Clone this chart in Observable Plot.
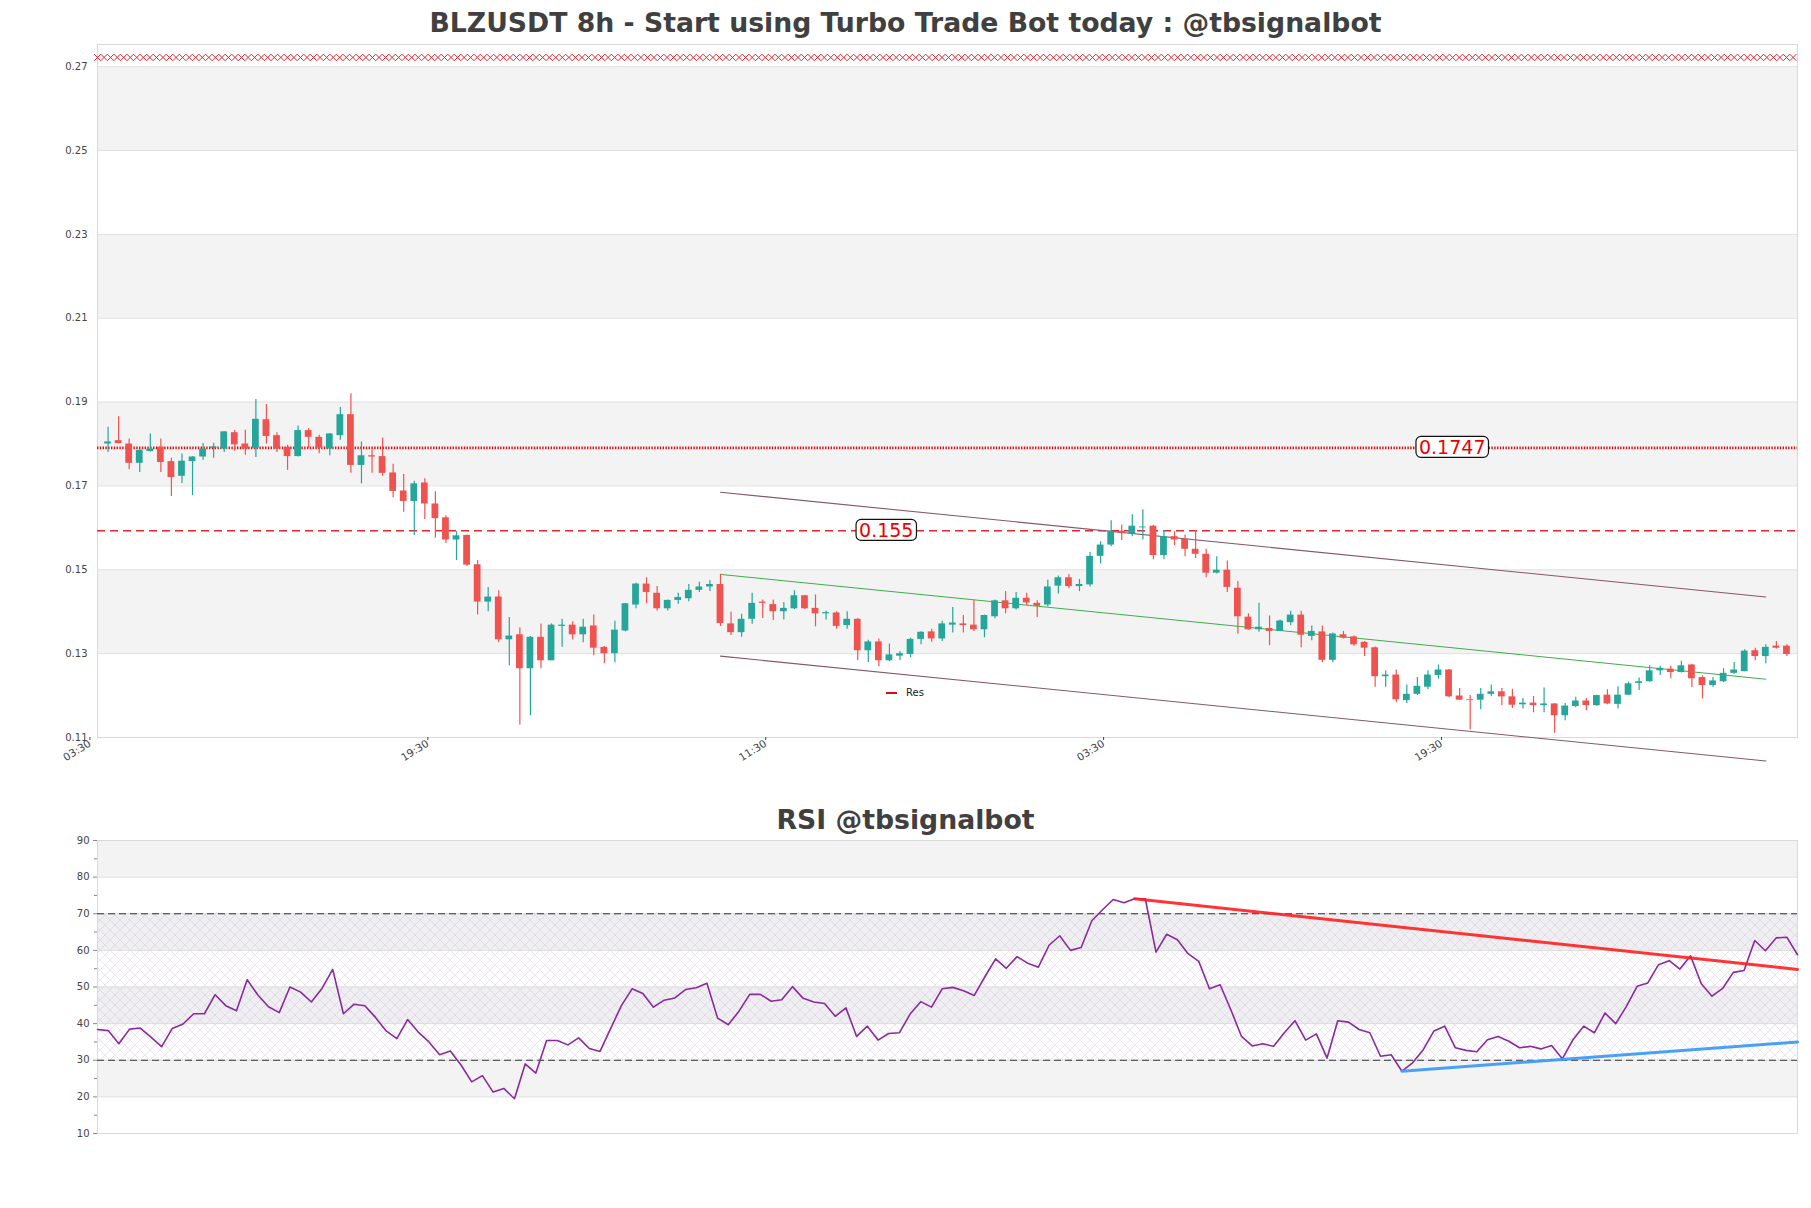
<!DOCTYPE html>
<html>
<head>
<meta charset="utf-8">
<script src="https://cdn.jsdelivr.net/npm/d3@7"></script>
<script src="https://cdn.jsdelivr.net/npm/@observablehq/plot@0.6"></script>
<style>
  html, body { margin: 0; padding: 0; background: #fff; overflow: hidden; }
  #root { position: relative; width: 1811px; height: 1208px; font-family: "DejaVu Sans", sans-serif; }
  .title { position: absolute; left: 0; width: 1811px; text-align: center; font-weight: bold; font-size: 26.7px; line-height: 30px; color: #404040; }
  .abs { position: absolute; left: 0; }
  #legend { position: absolute; font-size: 10px; color: #222; }
  #legend span.sw { display: inline-block; width: 11px; height: 2px; background: #d0101a; vertical-align: middle; margin-right: 9px; }
</style>
</head>
<body>
<div id="root">
  <svg width="0" height="0" style="position:absolute">
    <defs>
      <pattern id="hatch" width="10" height="10" patternUnits="userSpaceOnUse">
        <path d="M0,0L10,10M10,0L0,10" stroke="#cbbcd5" stroke-width="0.5" fill="none"/>
      </pattern>
    </defs>
  </svg>
  <div class="title" id="t1" style="top:8px">BLZUSDT 8h - Start using Turbo Trade Bot today : @tbsignalbot</div>
  <div class="abs" id="main" style="top:0"></div>
  <div id="legend" style="left:886px; top:687px"><span class="sw"></span>Res</div>
  <div class="title" id="t2" style="top:805px">RSI @tbsignalbot</div>
  <div class="abs" id="rsi" style="top:830px"></div>
</div>
<script>
// ---------------- DATA ----------------
const open = [
0.1800,0.1808,0.1800,0.1754,0.1782,0.1792,0.1758,0.1723,0.1758,0.1769,
0.1790,0.1788,0.1827,0.1800,0.1790,0.1858,0.1820,0.1792,0.1770,0.1832,
0.1816,0.1788,0.1820,0.1870,0.1749,0.1772,0.1770,0.1731,0.1688,0.1663,
0.1707,0.1657,0.1624,0.1571,0.1582,0.1512,0.1423,0.1435,0.1333,0.1345,
0.1264,0.1339,0.1283,0.1365,0.1368,0.1345,0.1366,0.1315,0.1300,0.1354,
0.1416,0.1466,0.1444,0.1407,0.1427,0.1431,0.1451,0.1459,0.1465,0.1371,
0.1350,0.1382,0.1423,0.1417,0.1400,0.1407,0.1438,0.1408,0.1395,0.1397,
0.1367,0.1382,0.1307,0.1328,0.1283,0.1294,0.1298,0.1334,0.1352,0.1335,
0.1368,0.1371,0.1368,0.1357,0.1388,0.1426,0.1407,0.1432,0.1420,0.1416,
0.1461,0.1481,0.1460,0.1464,0.1532,0.1559,0.1592,0.1586,0.1600,0.1604,
0.1534,0.1579,0.1573,0.1549,0.1537,0.1492,0.1499,0.1456,0.1387,0.1357,
0.1360,0.1353,0.1374,0.1392,0.1341,0.1352,0.1284,0.1345,0.1340,0.1327,
0.1314,0.1245,0.1249,0.1188,0.1203,0.1220,0.1248,0.1261,0.1199,0.1190,
0.1189,0.1203,0.1209,0.1197,0.1178,0.1182,0.1176,0.1180,0.1152,0.1174,
0.1187,0.1176,0.1201,0.1179,0.1201,0.1229,0.1233,0.1259,0.1263,0.1255,
0.1273,0.1243,0.1224,0.1233,0.1253,0.1257,0.1307,0.1293,0.1318,0.1318
];
const close = [
0.1805,0.1801,0.1754,0.1785,0.1788,0.1756,0.1720,0.1759,0.1769,0.1788,
0.1793,0.1829,0.1798,0.1788,0.1859,0.1818,0.1788,0.1770,0.1832,0.1816,
0.1790,0.1824,0.1870,0.1749,0.1772,0.1769,0.1730,0.1687,0.1663,0.1705,
0.1657,0.1622,0.1571,0.1581,0.1511,0.1423,0.1435,0.1333,0.1342,0.1264,
0.1339,0.1283,0.1368,0.1368,0.1345,0.1363,0.1313,0.1300,0.1356,0.1419,
0.1466,0.1446,0.1407,0.1427,0.1434,0.1451,0.1459,0.1465,0.1372,0.1350,
0.1382,0.1420,0.1420,0.1400,0.1408,0.1438,0.1407,0.1395,0.1398,0.1365,
0.1382,0.1307,0.1328,0.1283,0.1297,0.1300,0.1334,0.1351,0.1335,0.1371,
0.1373,0.1367,0.1357,0.1391,0.1426,0.1407,0.1432,0.1421,0.1413,0.1459,
0.1481,0.1460,0.1465,0.1532,0.1559,0.1592,0.1587,0.1604,0.1602,0.1534,
0.1579,0.1571,0.1549,0.1537,0.1492,0.1499,0.1458,0.1388,0.1357,0.1363,
0.1353,0.1378,0.1392,0.1344,0.1353,0.1284,0.1347,0.1337,0.1321,0.1313,
0.1245,0.1249,0.1190,0.1203,0.1222,0.1249,0.1261,0.1197,0.1189,0.1188,
0.1203,0.1209,0.1197,0.1177,0.1182,0.1176,0.1180,0.1152,0.1175,0.1187,
0.1176,0.1200,0.1180,0.1201,0.1228,0.1233,0.1259,0.1265,0.1255,0.1271,
0.1240,0.1224,0.1235,0.1253,0.1261,0.1306,0.1293,0.1315,0.1313,0.1298
];
const high = [
0.1840,0.1865,0.1812,0.1787,0.1824,0.1812,0.1766,0.1776,0.1770,0.1801,
0.1802,0.1830,0.1832,0.1833,0.1906,0.1894,0.1827,0.1797,0.1843,0.1837,
0.1821,0.1825,0.1887,0.1920,0.1805,0.1786,0.1814,0.1752,0.1727,0.1711,
0.1717,0.1686,0.1629,0.1591,0.1583,0.1522,0.1458,0.1450,0.1386,0.1361,
0.1341,0.1371,0.1371,0.1382,0.1376,0.1382,0.1392,0.1317,0.1377,0.1420,
0.1468,0.1481,0.1460,0.1428,0.1444,0.1465,0.1470,0.1474,0.1489,0.1399,
0.1394,0.1444,0.1428,0.1428,0.1422,0.1450,0.1439,0.1440,0.1402,0.1400,
0.1400,0.1383,0.1332,0.1335,0.1323,0.1305,0.1337,0.1352,0.1358,0.1377,
0.1410,0.1391,0.1427,0.1392,0.1428,0.1448,0.1446,0.1444,0.1426,0.1475,
0.1485,0.1489,0.1477,0.1541,0.1567,0.1617,0.1607,0.1631,0.1643,0.1606,
0.1594,0.1591,0.1583,0.1594,0.1549,0.1531,0.1521,0.1472,0.1395,0.1420,
0.1390,0.1380,0.1401,0.1401,0.1366,0.1366,0.1349,0.1353,0.1342,0.1329,
0.1316,0.1259,0.1261,0.1225,0.1243,0.1259,0.1273,0.1262,0.1217,0.1200,
0.1217,0.1225,0.1217,0.1215,0.1193,0.1198,0.1218,0.1181,0.1181,0.1196,
0.1193,0.1201,0.1214,0.1221,0.1232,0.1242,0.1271,0.1270,0.1270,0.1282,
0.1275,0.1247,0.1243,0.1264,0.1279,0.1309,0.1313,0.1321,0.1329,0.1321
];
const low = [
0.1780,0.1800,0.1739,0.1732,0.1781,0.1732,0.1675,0.1706,0.1677,0.1761,
0.1766,0.1780,0.1783,0.1773,0.1768,0.1800,0.1780,0.1737,0.1769,0.1790,
0.1777,0.1772,0.1809,0.1730,0.1705,0.1730,0.1723,0.1672,0.1637,0.1582,
0.1620,0.1575,0.1563,0.1522,0.1508,0.1392,0.1400,0.1326,0.1271,0.1130,
0.1152,0.1264,0.1283,0.1315,0.1333,0.1326,0.1295,0.1276,0.1278,0.1352,
0.1407,0.1419,0.1402,0.1402,0.1418,0.1424,0.1446,0.1448,0.1365,0.1343,
0.1339,0.1370,0.1384,0.1379,0.1380,0.1405,0.1405,0.1364,0.1380,0.1358,
0.1358,0.1283,0.1279,0.1269,0.1281,0.1283,0.1290,0.1321,0.1327,0.1329,
0.1349,0.1349,0.1353,0.1338,0.1383,0.1395,0.1404,0.1415,0.1386,0.1412,
0.1442,0.1455,0.1448,0.1459,0.1514,0.1555,0.1570,0.1579,0.1571,0.1524,
0.1524,0.1558,0.1531,0.1527,0.1481,0.1490,0.1446,0.1346,0.1356,0.1351,
0.1319,0.1352,0.1367,0.1314,0.1331,0.1278,0.1278,0.1335,0.1317,0.1293,
0.1220,0.1220,0.1183,0.1181,0.1200,0.1214,0.1239,0.1195,0.1188,0.1118,
0.1166,0.1197,0.1176,0.1169,0.1168,0.1159,0.1159,0.1110,0.1140,0.1171,
0.1164,0.1174,0.1178,0.1168,0.1200,0.1212,0.1232,0.1248,0.1240,0.1254,
0.1219,0.1192,0.1220,0.1231,0.1251,0.1257,0.1283,0.1276,0.1311,0.1293
];
const rsi = [
38.4,38.1,34.5,38.5,38.8,36.3,33.7,38.7,39.9,42.7,
42.7,47.9,44.9,43.5,52.0,47.8,44.6,43.0,50.0,48.6,
45.9,49.6,54.8,42.7,45.3,44.9,41.7,38.0,35.9,41.1,
37.7,35.0,31.5,32.5,28.7,24.1,25.8,21.3,22.3,19.5,
29.0,26.5,35.4,35.4,34.2,36.1,33.2,32.4,38.7,44.9,
49.5,48.2,44.5,46.4,47.0,49.3,49.8,51.0,41.5,39.7,
43.4,48.0,48.0,46.1,46.5,50.1,46.9,45.9,45.5,42.0,
44.3,36.5,39.3,35.5,37.3,37.5,42.6,46.0,44.5,49.5,
49.9,49.0,47.7,52.8,57.7,55.1,58.3,56.5,55.4,61.4,
64.0,60.0,60.8,68.1,71.1,73.9,73.0,74.1,74.1,59.5,
64.4,62.9,59.1,57.0,49.5,50.6,43.8,36.5,33.9,34.5,
33.8,37.5,40.8,35.5,37.2,30.6,40.8,40.4,38.4,37.5,
31.1,31.5,27.0,29.3,32.9,38.0,39.3,33.4,32.7,32.3,
35.6,36.5,35.2,33.4,33.8,33.1,34.0,30.4,35.6,39.3,
37.5,42.9,40.0,44.7,50.2,51.1,56.1,57.2,54.9,58.5,
50.9,47.5,49.6,54.0,54.5,62.7,59.9,63.4,63.6,58.8
];

// axis ticks
const priceTicks = [0.11, 0.13, 0.15, 0.17, 0.19, 0.21, 0.23, 0.25, 0.27];
const priceBandLows = [0.13, 0.17, 0.21, 0.25];
const xTickIndex = [-2, 30, 62, 94, 126];
const xTickLabels = ["03:30", "19:30", "11:30", "03:30", "19:30"];
const rsiTicks = [10, 20, 30, 40, 50, 60, 70, 80, 90];
const rsiMinorTicks = [15, 25, 35, 45, 55, 65, 75, 85];

// horizontal levels
const resLevel = [0.1791];           // dotted red line
const resLevelLabel = ["0.1747"];
const resLabelAt = [127.3];
const supLevel = [0.1593];           // dashed red line
const supLevelLabel = ["0.155"];
const supLabelAt = [73.7];
const topMarkerLevel = 0.2722;

// regression channel
const channelX = [58, 157];
const channelUpper = [0.1685, 0.1435];
const channelMid = [0.1489, 0.1239];
const channelLower = [0.1294, 0.1044];

// RSI trend lines
const rsiDownX = [97, 159];
const rsiDownY = [74.1, 54.8];
const rsiUpX = [122, 159];
const rsiUpY = [27.0, 35.0];
const rsiBands = [
  {lo: 80, hi: 90, fill: "#f3f3f3"},
  {lo: 60, hi: 70, fill: "#efeff1"},
  {lo: 40, hi: 50, fill: "#efeff1"},
  {lo: 20, hi: 30, fill: "#f3f3f3"}
];
const rsiLevels = [70, 30];

// ---------------- BUILD ----------------
const UP = "#26a69a", DOWN = "#ef5350";
const N = open.length;
const xDomain = [-1, N];
const candles = d3.range(N).map(i => ({
  i, o: open[i], c: close[i], h: high[i], l: low[i],
  col: close[i] >= open[i] ? UP : DOWN
}));
const markerX = d3.range(xDomain[0], xDomain[1], 0.62);
const chan = (ys) => channelX.map((x, k) => ({x, y: ys[k]}));
const tickLabelMap = new Map(xTickIndex.map((d, k) => [d, xTickLabels[k]]));

const mainPlot = Plot.plot({
  width: 1811, height: 800,
  marginLeft: 97, marginRight: 14, marginTop: 44, marginBottom: 63,
  x: {domain: xDomain, axis: null},
  y: {domain: [0.11, 0.27529], axis: null},
  style: {fontFamily: "DejaVu Sans", fontSize: "10px", color: "#444", background: "transparent", overflow: "visible"},
  marks: [
    Plot.rect(priceBandLows, {x1: xDomain[0], x2: xDomain[1], y1: d => d, y2: d => d + 0.02, fill: "#f3f3f3"}),
    Plot.ruleY(priceTicks, {stroke: "#e0e0e0", strokeWidth: 1}),
    Plot.frame({stroke: "#d9d9d9"}),
    Plot.dot(markerX, {x: d => d, y: topMarkerLevel, symbol: "times", r: 3.1, stroke: "#e0262e", strokeWidth: 1}),
    Plot.ruleY(resLevel, {stroke: "#dd1010", strokeWidth: 2.8, strokeDasharray: "1.4,1.4"}),
    Plot.ruleY(supLevel, {stroke: "#e0282e", strokeWidth: 1.5, strokeDasharray: "8,5"}),
    Plot.line(chan(channelUpper), {x: "x", y: "y", stroke: "#86566e", strokeWidth: 1.1}),
    Plot.line(chan(channelLower), {x: "x", y: "y", stroke: "#86566e", strokeWidth: 1.1}),
    Plot.line(chan(channelMid), {x: "x", y: "y", stroke: "#3fae4a", strokeWidth: 1}),
    Plot.ruleX(candles, {x: "i", y1: "l", y2: "h", stroke: "col", strokeWidth: 1.2}),
    Plot.rect(candles, {x1: d => d.i - 0.32, x2: d => d.i + 0.32, y1: "o", y2: "c", fill: "col"}),
    Plot.text(resLevelLabel, {x: (d, k) => resLabelAt[k], y: (d, k) => resLevel[k], text: d => d, fill: "#ee0000", fontSize: 19, fontFamily: "DejaVu Sans"}),
    Plot.text(supLevelLabel, {x: (d, k) => supLabelAt[k], y: (d, k) => supLevel[k], text: d => d, fill: "#ee0000", fontSize: 19, fontFamily: "DejaVu Sans"}),
    Plot.axisY(priceTicks, {tickSize: 0, tickPadding: 10, tickFormat: d3.format(".2f"), fill: "#444"}),
    Plot.axisX(xTickIndex, {tickSize: 3, tickPadding: 2, tickRotate: -32, dx: 3, fontSize: 10.5, tickFormat: d => tickLabelMap.get(d), fill: "#444", stroke: "#444"})
  ]
});
document.getElementById("main").appendChild(mainPlot);

// rounded boxes behind level labels
d3.select(mainPlot).selectAll('g[aria-label="text"] text').each(function () {
  const b = this.getBBox();
  const r = document.createElementNS("http://www.w3.org/2000/svg", "rect");
  r.setAttribute("x", b.x - 3);
  r.setAttribute("y", b.y + 0.5);
  r.setAttribute("width", b.width + 6);
  r.setAttribute("height", b.height - 1);
  r.setAttribute("rx", 5);
  r.setAttribute("fill", "white");
  r.setAttribute("stroke", "#111");
  r.setAttribute("stroke-width", 1.2);
  const t = this.getAttribute("transform");
  if (t) r.setAttribute("transform", t);
  this.parentNode.insertBefore(r, this);
});

const rsiData = rsi.map((v, i) => ({i, v}));
const rsiPlot = Plot.plot({
  width: 1811, height: 330,
  marginLeft: 97, marginRight: 14, marginTop: 10, marginBottom: 27,
  x: {domain: [0, N - 1], axis: null},
  y: {domain: [10, 90], axis: null},
  color: {type: "identity"},
  style: {fontFamily: "DejaVu Sans", fontSize: "10px", color: "#444", background: "transparent", overflow: "visible"},
  marks: [
    Plot.rect(rsiBands, {x1: 0, x2: N - 1, y1: "lo", y2: "hi", fill: "fill"}),
    Plot.rect([rsiLevels], {x1: 0, x2: N - 1, y1: d => d[1], y2: d => d[0], fill: "url(#hatch)", fillOpacity: 0.8}),
    Plot.ruleY(rsiTicks, {stroke: "#dcdcdc"}),
    Plot.frame({stroke: "#d9d9d9"}),
    Plot.ruleY(rsiLevels, {stroke: "#333", strokeWidth: 1.2, strokeDasharray: "7,4"}),
    Plot.line(rsiData, {x: "i", y: "v", stroke: "#8a2a9c", strokeWidth: 1.6}),
    Plot.line(rsiDownX.map((x, k) => ({x, y: rsiDownY[k]})), {x: "x", y: "y", stroke: "#ff1f1f", strokeWidth: 3, strokeOpacity: 0.9}),
    Plot.line(rsiUpX.map((x, k) => ({x, y: rsiUpY[k]})), {x: "x", y: "y", stroke: "#3f9cf5", strokeWidth: 3, strokeOpacity: 0.95}),
    Plot.axisY(rsiTicks, {tickSize: 4, tickPadding: 4, fill: "#444", stroke: "#888"}),
    Plot.axisY(rsiMinorTicks, {tickSize: 3, tickFormat: () => "", stroke: "#888"})
  ]
});
document.getElementById("rsi").appendChild(rsiPlot);
</script>
</body>
</html>
